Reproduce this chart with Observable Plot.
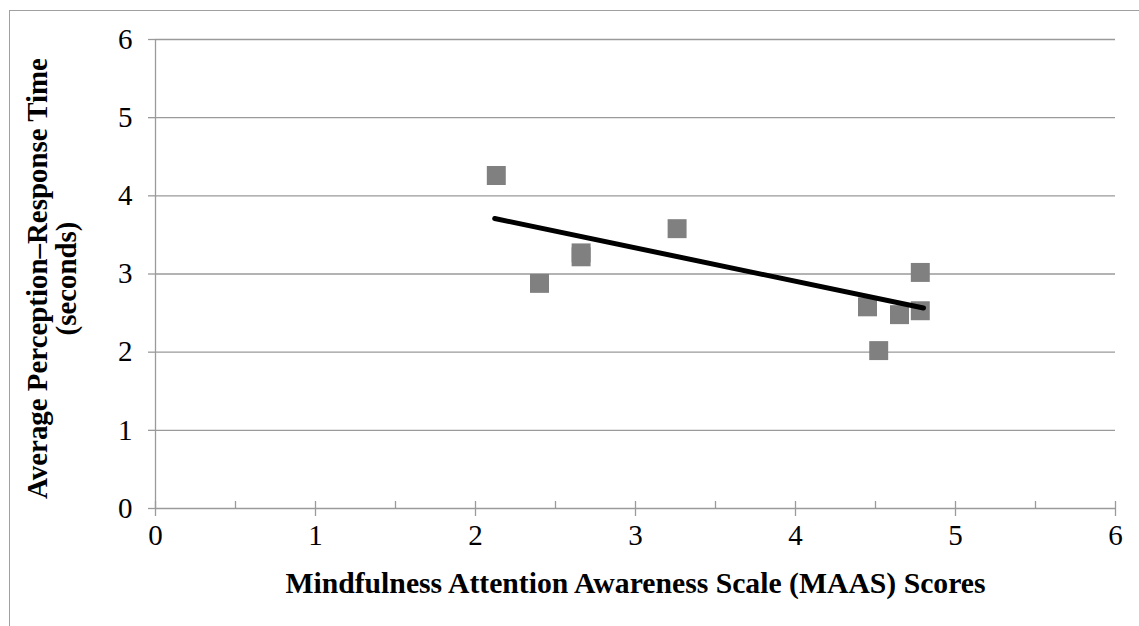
<!DOCTYPE html>
<html>
<head>
<meta charset="utf-8">
<script src="https://cdn.jsdelivr.net/npm/d3@7"></script>
<script src="https://cdn.jsdelivr.net/npm/@observablehq/plot@0.6"></script>
<style>
  html, body { margin: 0; padding: 0; background: #fff; }
  #wrap { position: relative; width: 1139px; height: 626px; overflow: hidden; }
  #frame { position: absolute; left: 9px; top: 10px; width: 1200px; height: 700px;
           border-left: 1.5px solid #a0a0a0; border-top: 1.5px solid #a0a0a0; }
  #chart { position: absolute; left: 0; top: 0; }
</style>
</head>
<body>
<div id="wrap"><div id="frame"></div><div id="chart"></div></div>
<script>
// Data
const maasScores = [2.13, 2.40, 2.66, 2.66, 3.26, 4.45, 4.52, 4.65, 4.78, 4.78];
const responseTimes = [4.26, 2.88, 3.27, 3.22, 3.58, 2.58, 2.02, 2.48, 3.02, 2.53];
const trendX = [2.12, 4.80];
const trendY = [3.71, 2.565];
const xTicks = [0, 1, 2, 3, 4, 5, 6];
const xMinorTicks = [0.5, 1.5, 2.5, 3.5, 4.5, 5.5];
const yTicks = [0, 1, 2, 3, 4, 5, 6];
const gridY = [1, 2, 3, 4, 5, 6];
const xLabel = "Mindfulness Attention Awareness Scale (MAAS) Scores";
const yLabel = "Average Perception\u2013Response Time\n(seconds)";

const points = maasScores.map((x, i) => ({x, y: responseTimes[i]}));
const trend = trendX.map((x, i) => ({x, y: trendY[i]}));

const axisColor = "#9a9a9a";
const font = "'Liberation Serif', 'Times New Roman', serif";
const fs = 29;
const titleFs = 29.7;

const chart = Plot.plot({
  width: 1139,
  height: 626,
  marginLeft: 155,
  marginRight: 24,
  marginTop: 39,
  marginBottom: 118,
  style: {fontFamily: font, fontSize: fs + "px", color: "#000", background: "transparent", overflow: "visible"},
  x: {domain: [0, 6]},
  y: {domain: [0, 6]},
  marks: [
    Plot.ruleY(gridY, {stroke: axisColor, strokeWidth: 1.3}),
    Plot.ruleX([0], {stroke: axisColor, strokeWidth: 1.3}),
    Plot.ruleY([0], {stroke: axisColor, strokeWidth: 1.3}),
    Plot.ruleX(xTicks, {x: d => d, y1: 0, y2: 0, insetTop: -7, insetBottom: -8, stroke: axisColor, strokeWidth: 1.3}),
    Plot.ruleX(xMinorTicks, {x: d => d, y1: 0, y2: 0, insetTop: -7, stroke: axisColor, strokeWidth: 1.3}),
    Plot.axisX({ticks: xTicks, tickSize: 0, tickPadding: 16, tickFormat: d => String(d), label: null, fontSize: fs, fill: "#000"}),
    Plot.axisY({ticks: yTicks, tickSize: 7, tickPadding: 16, tickFormat: d => String(d), label: null, fontSize: fs, stroke: axisColor, strokeWidth: 1.3, fill: "#000"}),
    Plot.dot(points, {x: "x", y: "y", symbol: "square", r: 10.7, fill: "#808080", stroke: "none"}),
    Plot.line(trend, {x: "x", y: "y", stroke: "#000", strokeWidth: 5, strokeLinecap: "round"}),
    Plot.text([xLabel], {frameAnchor: "bottom", lineAnchor: "middle", dy: 75, text: d => d, fontWeight: "bold", fontSize: titleFs, fill: "#000"}),
    Plot.text([yLabel], {frameAnchor: "left", textAnchor: "middle", lineAnchor: "middle", dx: -103, dy: 4.5, rotate: -90, text: d => d, fontWeight: "bold", fontSize: 28.9, lineHeight: 1.0, fill: "#000"})
  ]
});
document.getElementById("chart").appendChild(chart);
</script>
</body>
</html>
